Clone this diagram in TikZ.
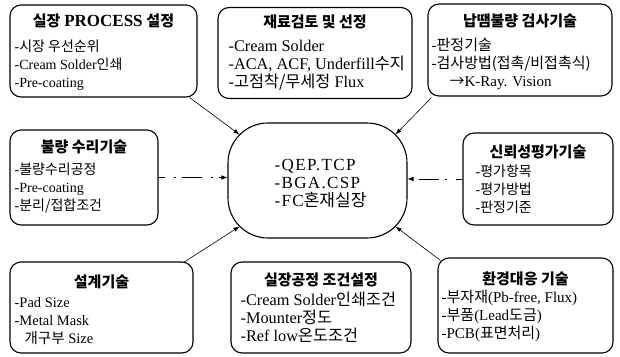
\documentclass[tikz,border=0pt]{standalone}
\usepackage{fontspec}
\setmainfont{Liberation Serif}
\newfontfamily\krf{Noto Sans CJK KR}
\newfontfamily\hubfont[LetterSpace=8]{Liberation Serif}
\newcommand\kr[1]{{\krf #1}}
\usetikzlibrary{calc,arrows.meta}
\tikzset{
  panel/.style={draw, line width=1.1pt, rounded corners=11pt, inner sep=0pt},
  hub/.style={draw, line width=1.1pt, rounded corners=40pt, inner sep=0pt},
  ttl/.style={anchor=base, font=\fontsize{15}{17}\selectfont\bfseries, inner sep=0pt},
  itm/.style={anchor=base west, inner sep=0pt},
  hubtxt/.style={anchor=base west, font=\hubfont\fontsize{17}{19}\selectfont, inner sep=0pt},
  link/.style={line width=0.6pt, -{Latex[length=6pt,width=4.5pt]}},
  dashlink/.style={link, dash pattern=on 6pt off 9pt on 2pt off 6pt on 14pt off 0pt},
}
% #1 name, #2 title offset, #3 first item offset, #4 inset, #5 font size, #6 title, #7 items
\newcommand\paneltext[7]{%
  \node[ttl] (#1-t) at ($(#1.north)+(0,#2)$) {#6};
  \foreach \t [count=\i] in {#7} {\node[itm, font=\fontsize{#5}{#5}\selectfont] (#1-\i) at ($(#1.north west)+(#4,{#3+18*(\i-1)})$) {\t};}
}
\begin{document}
\begin{tikzpicture}[x=1pt,y=-1pt]
\useasboundingbox (0,0) rectangle (620,356);

% panels
\node[panel, minimum width=187pt, minimum height=92pt] (tl) at (103.5,51) {};
\node[panel, minimum width=194pt, minimum height=91pt] (tm) at (315,53) {};
\node[panel, minimum width=184pt, minimum height=92pt] (tr) at (520,50) {};
\node[panel, minimum width=148pt, minimum height=95pt] (ml) at (84,177.5) {};
\node[panel, minimum width=150pt, minimum height=92pt] (mr) at (538,179) {};
\node[hub,   minimum width=179pt, minimum height=115pt] (c) at (317.5,180.5) {};
\node[panel, minimum width=183pt, minimum height=91pt] (bl) at (101.5,307.5) {};
\node[panel, minimum width=180pt, minimum height=91pt] (bm) at (321,307.5) {};
\node[panel, minimum width=175pt, minimum height=95pt] (br) at (525.5,305.5) {};

% texts
\paneltext{tl}{22}{47}{5}{14}{\kr{실장} {\fontsize{17}{17}\selectfont PROCESS} \kr{설정}}
  {{-\kr{시장 우선순위}},{-Cream Solder\kr{인쇄}},{-Pre-coating}}
\paneltext{tm}{21}{45}{11}{16.3}{\kr{재료검토 및 선정}}
  {{-Cream Solder},{-ACA, ACF, Underfill\kr{수지}},{-\kr{고점착/무세정} Flux}}
\paneltext{tr}{23}{47}{4}{15}{\kr{납땜불량 검사기술}}
  {{-\kr{판정기술}},{-\kr{검사방법(접촉/비접촉식)}},{\hspace*{18pt}\kr{→}K-Ray. Vision}}
\paneltext{ml}{23}{45}{5}{14}{\kr{불량 수리기술}}
  {{-\kr{불량수리공정}},{-Pre-coating},{-\kr{분리/접합조건}}}
\paneltext{mr}{25}{44}{13}{14}{\kr{신뢰성평가기술}}
  {{-\kr{평가항목}},{-\kr{평가방법}},{-\kr{판정기준}}}
\paneltext{bl}{26}{46}{5}{14.5}{\kr{설계기술}}
  {{-Pad Size},{-Metal Mask},{\hspace*{10pt}\kr{개구부} Size}}
\paneltext{bm}{24}{44}{10}{16.3}{\kr{실장공정 조건설정}}
  {{-Cream Solder\kr{인쇄조건}},{-Mounter\kr{정도}},{-Ref low\kr{온도조건}}}
\paneltext{br}{27}{45}{4}{15}{\kr{환경대응 기술}}
  {{-\kr{부자재}(Pb-free, Flux)},{-\kr{부품}(Lead\kr{도금})},{-PCB(\kr{표면처리})}}

\node[hubtxt] (c-1) at ($(c.north west)+(47,48)$) {-QEP.TCP};
\node[hubtxt] (c-2) at ($(c.north west)+(47,66)$) {-BGA.CSP};
\node[hubtxt] (c-3) at ($(c.north west)+(47,84)$) {-FC\kr{혼재실장}};

% connector ends on the hub outline
\coordinate (c-tl) at ($(c.north west)+(12,12)$);
\coordinate (c-tr) at ($(c.north east)+(-12,12)$);
\coordinate (c-bl) at ($(c.south west)+(12,-12)$);
\coordinate (c-br) at ($(c.south east)+(-12,-12)$);

\draw[link] ($(tl.south east)+(-8,0)$) -- (c-tl);
\draw[link] ($(tr.south west)+(4,1)$) -- (c-tr);
\draw[link] ($(bl.north east)+(-10,1)$) -- (c-bl);
\draw[link] ($(br.north west)+(3,3)$) -- (c-br);
\draw[dashlink] (ml.east) -- (ml.east -| c.west);
\draw[dashlink] (mr.west) -- (mr.west -| c.east);
\end{tikzpicture}
\end{document}
